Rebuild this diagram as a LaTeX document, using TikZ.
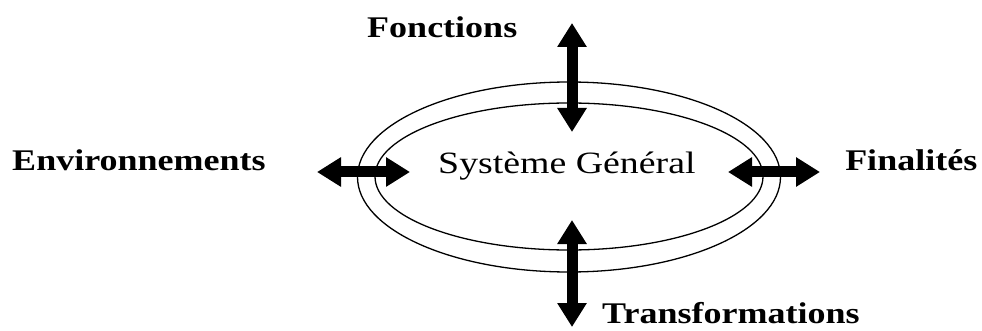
\documentclass[tikz,border=0pt]{standalone}
\usepackage{fontspec}
\setmainfont{Liberation Serif}
\usetikzlibrary{arrows.meta,shapes.geometric}

\begin{document}
\begin{tikzpicture}[x=1pt,y=-1pt,
	ring/.style={draw, ellipse, line width=1.3pt, inner sep=0pt},
	lbl/.style={font=\fontsize{30}{36}\selectfont\bfseries, inner sep=0pt, anchor=base west, xscale=1.2},
	dbl/.style={line width=11pt, {Triangle[width=28pt,length=24pt]}-{Triangle[width=28pt,length=24pt]}}]

	\useasboundingbox (0,0) rectangle (982,331);

	% the two rings of the system
	\node[ring, minimum width=423pt, minimum height=190pt] (outer) at (569,177) {};
	\node[ring, minimum width=388pt, minimum height=147pt] (inner) at (569,176.5) {};
	\node[font=\fontsize{31}{36}\selectfont, inner sep=0pt, anchor=base west, xscale=1.22] (sys) at (438,174) {Système Général};

	% labels
	\node[lbl] (fonctions) at (367,38) {Fonctions};
	\node[lbl] (environ) at (12,171) {Environnements};
	\node[lbl] (finalites) at (845,171) {Finalités};
	\node[lbl] (transfo) at (602,323) {Transformations};

	% arrow ends
	\coordinate (n1) at (572,23);
	\coordinate (n2) at (572,132);
	\coordinate (s1) at (572,220);
	\coordinate (s2) at (572,327);
	\coordinate (w1) at (317,172);
	\coordinate (w2) at (410,172);
	\coordinate (e1) at (728,172);
	\coordinate (e2) at (820,172);

	\foreach \a/\b in {n1/n2, s1/s2, w1/w2, e1/e2}{
		\draw[dbl] (\a) -- (\b);
	};

\end{tikzpicture}
\end{document}
